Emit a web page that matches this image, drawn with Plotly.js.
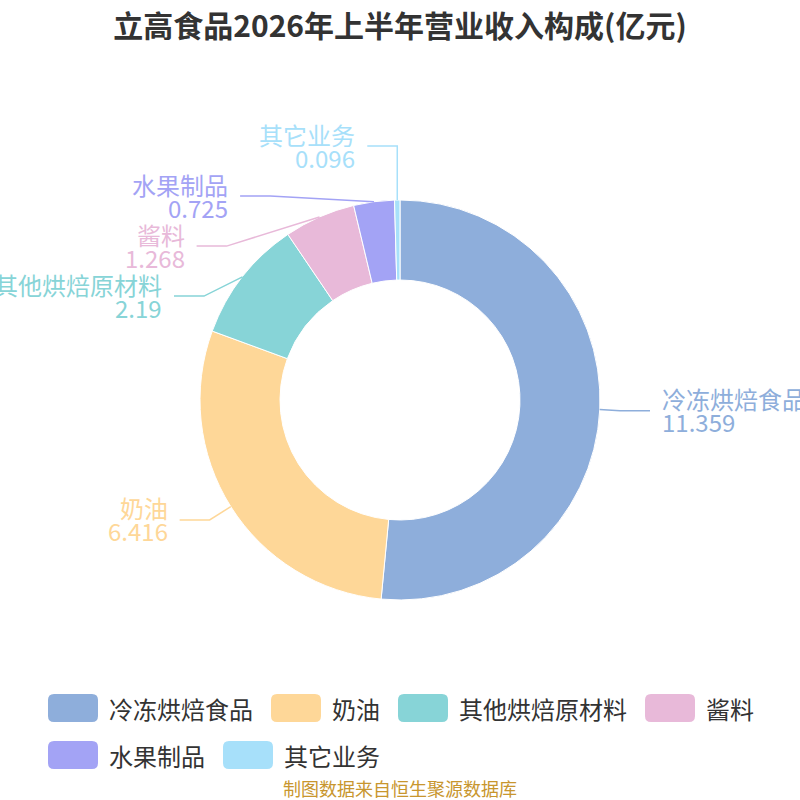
<!DOCTYPE html>
<html>
<head>
<meta charset="utf-8">
<script src="https://cdn.plot.ly/plotly-3.0.1.min.js"></script>
<style>
html,body{margin:0;padding:0;background:#fff;}
#chart{width:800px;height:800px;}
</style>
</head>
<body>
<div id="chart"></div>
<script>
// 数据
var categories = ['冷冻烘焙食品', '奶油', '其他烘焙原材料', '酱料', '水果制品', '其它业务'];
var values = [11.359, 6.416, 2.19, 1.268, 0.725, 0.096];
var valueLabels = ['11.359', '6.416', '2.19', '1.268', '0.725', '0.096'];
var colors = ['#8eaedb', '#fed798', '#87d4d7', '#e8b9d9', '#a3a3f5', '#a7e0fa'];
var title = '立高食品2026年上半年营业收入构成(亿元)';
var source = '制图数据来自恒生聚源数据库';

var W = 800, H = 800;
var cx = 400, cy = 400, R = 200;
var FONT = '"Noto Sans CJK SC", "Noto Sans", sans-serif';
var FS = 24;           // label / legend font size
var LEN1 = 25, LEN2 = 30, GAP = 50;

function px(x) { return x / W; }
function py(y) { return 1 - y / H; }
function textW(s) {
  var w = 0;
  for (var k = 0; k < s.length; k++) w += /[\u4e00-\u9fff]/.test(s[k]) ? FS : FS * 0.56;
  return w;
}

// 扇区中点 -> 引导线位置
var total = values.reduce(function (a, b) { return a + b; }, 0);
var acc = 0;
var items = values.map(function (v, i) {
  var mid = (acc + v / 2) / total * 2 * Math.PI;
  acc += v;
  var s = Math.sin(mid), c = -Math.cos(mid);
  return {
    i: i, dir: s >= 0 ? 1 : -1,
    ex: cx + R * s, ey: cy + R * c,
    bx: cx + (R + LEN1) * s, by: cy + (R + LEN1) * c
  };
});

// 同侧标签防重叠（向下推开，再整体回移一部分）
function layoutSide(list) {
  if (list.length < 2) return;
  list.sort(function (a, b) { return a.by - b.by; });
  var shifts = [0];
  for (var k = 1; k < list.length; k++) {
    var d = list[k - 1].by + GAP - list[k].by;
    if (d > 0) { list[k].by += d; shifts.push(d); } else shifts.push(0);
  }
  var k0 = 0;
  while (k0 < list.length) {
    var k1 = k0;
    while (k1 + 1 < list.length && shifts[k1 + 1] > 0) k1++;
    if (k1 > k0) {
      var grp = list.slice(k0, k1 + 1), sum = 0;
      for (var g = k0; g <= k1; g++) sum += shifts[g];
      var back = sum / grp.length * 0.6;
      grp.forEach(function (it) { it.by -= back; });
      var rB = 0;
      grp.forEach(function (it) { rB = Math.max(rB, Math.abs(it.by - cy)); });
      var rA = R + 18;
      grp.forEach(function (it) {
        var dy = Math.abs(it.by - cy);
        var dx = Math.sqrt(Math.max(0, 1 - dy * dy / (rB * rB))) * rA;
        it.bx = cx + it.dir * Math.max(dx, Math.abs(it.ex - cx));
      });
    }
    k0 = k1 + 1;
  }
}
layoutSide(items.filter(function (it) { return it.dir < 0; }));
layoutSide(items.filter(function (it) { return it.dir > 0; }));

var shapes = [], annotations = [];
items.forEach(function (it) {
  var tw = textW(categories[it.i]);
  // 标签尽量留在画布内
  var over = it.dir > 0 ? (it.bx + LEN2 + 10 + tw) - (W + 4) : -4 - (it.bx - LEN2 - 10 - tw);
  if (over > 0) it.bx -= it.dir * over;
  var endX = it.bx + it.dir * LEN2;
  shapes.push({
    type: 'path', xref: 'paper', yref: 'paper',
    path: 'M' + px(it.ex) + ',' + py(it.ey) + ' L' + px(it.bx) + ',' + py(it.by) + ' L' + px(endX) + ',' + py(it.by),
    line: {color: colors[it.i], width: 1.5}
  });
  var tx = endX + it.dir * 10;
  var anchor = it.dir > 0 ? 'left' : 'right';
  annotations.push({
    xref: 'paper', yref: 'paper', x: px(tx), y: py(it.by - 12), text: categories[it.i],
    showarrow: false, xanchor: anchor, yanchor: 'middle',
    font: {family: FONT, size: FS, color: colors[it.i]}
  });
  annotations.push({
    xref: 'paper', yref: 'paper', x: px(tx), y: py(it.by + 11), text: valueLabels[it.i],
    showarrow: false, xanchor: anchor, yanchor: 'middle',
    font: {family: FONT, size: FS, color: colors[it.i]}
  });
});

// 自定义图例（圆角色块）
function roundRect(x0, y0, x1, y1, r) {
  var X0 = px(x0), X1 = px(x1), Y0 = py(y0), Y1 = py(y1), rr = r / W;
  return 'M' + (X0 + rr) + ',' + Y0 + ' L' + (X1 - rr) + ',' + Y0 + ' Q' + X1 + ',' + Y0 + ' ' + X1 + ',' + (Y0 - rr) +
    ' L' + X1 + ',' + (Y1 + rr) + ' Q' + X1 + ',' + Y1 + ' ' + (X1 - rr) + ',' + Y1 +
    ' L' + (X0 + rr) + ',' + Y1 + ' Q' + X0 + ',' + Y1 + ' ' + X0 + ',' + (Y1 + rr) +
    ' L' + X0 + ',' + (Y0 - rr) + ' Q' + X0 + ',' + Y0 + ' ' + (X0 + rr) + ',' + Y0 + ' Z';
}
var SW = 50, SH = 28, TGAP = 9, IGAP = 20, ROW0 = 708, ROWH = 47, MAXW = 740;
var rows = [[]], rowW = [0];
categories.forEach(function (name, i) {
  var w = SW + TGAP + textW(name);
  var r = rows.length - 1;
  var add = rows[r].length ? IGAP + w : w;
  if (rowW[r] + add > MAXW) { rows.push([]); rowW.push(0); r++; add = w; }
  rows[r].push(i); rowW[r] += add;
});
var left = (W - Math.max.apply(null, rowW)) / 2;
rows.forEach(function (row, r) {
  var x = left, yc = ROW0 + r * ROWH;
  row.forEach(function (i) {
    shapes.push({
      type: 'path', xref: 'paper', yref: 'paper',
      path: roundRect(x, yc - SH / 2, x + SW, yc + SH / 2, 6),
      fillcolor: colors[i], line: {width: 0}
    });
    annotations.push({
      xref: 'paper', yref: 'paper', x: px(x + SW + TGAP), y: py(yc), text: categories[i],
      showarrow: false, xanchor: 'left', yanchor: 'middle',
      font: {family: FONT, size: FS, color: '#333333'}
    });
    x += SW + TGAP + textW(categories[i]) + IGAP;
  });
});

annotations.push({
  xref: 'paper', yref: 'paper', x: 0.5, y: py(788), text: source,
  showarrow: false, xanchor: 'center', yanchor: 'middle',
  font: {family: FONT, size: 18, color: '#c8962e'}
});

var data = [{
  type: 'pie',
  labels: categories,
  values: values,
  hole: 0.6,
  sort: false,
  direction: 'clockwise',
  rotation: 0,
  textinfo: 'none',
  hoverinfo: 'label+value',
  marker: {colors: colors, line: {color: '#ffffff', width: 1}},
  domain: {x: [px(cx - R), px(cx + R)], y: [py(cy + R), py(cy - R)]},
  showlegend: false
}];

var layout = {
  width: W, height: H,
  margin: {l: 0, r: 0, t: 0, b: 0},
  paper_bgcolor: '#ffffff',
  title: {
    text: title, x: 0.5, xanchor: 'center', xref: 'paper',
    y: py(26), yref: 'container', yanchor: 'middle',
    font: {family: FONT, size: 30, color: '#333333', weight: 'bold'}
  },
  showlegend: false,
  shapes: shapes,
  annotations: annotations
};

Plotly.newPlot('chart', data, layout, {displayModeBar: false, staticPlot: true});
</script>
</body>
</html>
